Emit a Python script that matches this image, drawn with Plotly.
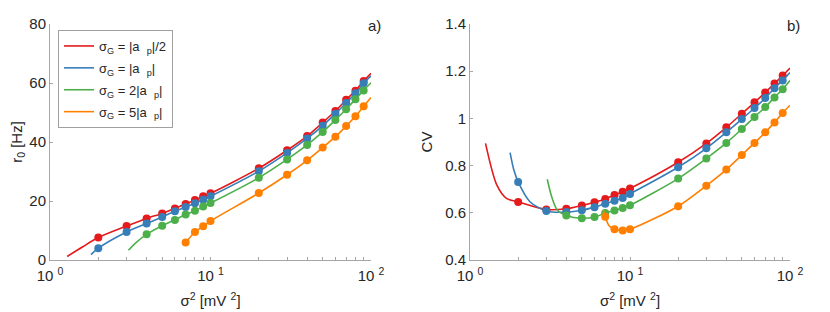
import plotly.graph_objects as go

# ---------------- data ----------------
SIG_POINTS = [2, 3, 4, 5, 6, 7, 8, 9, 10, 20, 30, 40, 50, 60, 70, 80, 90]

# simulated points: r0 [Hz]
r0_red    = [7.6, 11.5, 14.1, 15.8, 17.5, 19.0, 20.3, 21.6, 22.6, 31.1, 37.2, 42.0, 46.6, 50.5, 54.3, 57.4, 60.7]
r0_blue   = [4.0, 9.5, 12.4, 14.6, 16.5, 18.0, 19.2, 20.4, 21.6, 30.1, 36.3, 41.2, 45.5, 49.6, 53.2, 56.5, 59.9]
r0_green  = [8.7, 11.6, 13.6, 15.4, 16.7, 18.1, 19.3, 27.9, 34.1, 39.0, 43.4, 47.5, 51.1, 54.5, 57.5]
r0_orange = [5.9, 9.5, 11.4, 13.2, 22.7, 28.9, 33.8, 38.1, 41.8, 45.4, 48.7, 52.1]

# simulated points: CV
cv_red    = [0.646, 0.614, 0.617, 0.631, 0.645, 0.659, 0.675, 0.689, 0.703, 0.814, 0.894, 0.962, 1.020, 1.068, 1.110, 1.148, 1.182]
cv_blue   = [0.731, 0.608, 0.603, 0.611, 0.624, 0.638, 0.651, 0.663, 0.680, 0.793, 0.873, 0.941, 0.997, 1.044, 1.086, 1.128, 1.161]
cv_green  = [0.589, 0.577, 0.582, 0.599, 0.610, 0.620, 0.632, 0.745, 0.830, 0.896, 0.955, 1.006, 1.048, 1.089, 1.124]
cv_orange = [0.583, 0.530, 0.525, 0.530, 0.628, 0.715, 0.783, 0.845, 0.896, 0.941, 0.983, 1.023]

# theory curves
r0c_red_x    = [1.28, 1.6, 2, 3, 4, 5, 6, 7, 8, 9, 10, 20, 30, 40, 50, 60, 70, 80, 90, 100]
r0c_red_y    = [1.2, 4.5, 7.6, 11.5, 14.1, 15.8, 17.5, 19.0, 20.3, 21.6, 22.6, 31.1, 37.2, 42.0, 46.6, 50.5, 54.3, 57.4, 60.7, 63.3]
r0c_blue_x   = [1.80, 2, 3, 4, 5, 6, 7, 8, 9, 10, 20, 30, 40, 50, 60, 70, 80, 90, 100]
r0c_blue_y   = [1.8, 4.0, 9.5, 12.4, 14.6, 16.5, 18.0, 19.2, 20.4, 21.6, 30.1, 36.3, 41.2, 45.5, 49.6, 53.2, 56.5, 59.9, 62.4]
r0c_green_x  = [3.08, 3.45, 4, 5, 6, 7, 8, 9, 10, 20, 30, 40, 50, 60, 70, 80, 90, 100]
r0c_green_y  = [3.3, 6.0, 8.7, 11.6, 13.6, 15.4, 16.7, 18.1, 19.3, 27.9, 34.1, 39.0, 43.4, 47.5, 51.1, 54.5, 57.5, 60.1]
r0c_orange_x = [7, 8, 9, 10, 20, 30, 40, 50, 60, 70, 80, 90, 100]
r0c_orange_y = [5.9, 9.5, 11.4, 13.2, 22.7, 28.9, 33.8, 38.1, 41.8, 45.4, 48.7, 52.1, 55.1]

cvc_red_x    = [1.25, 1.47, 1.69, 2, 3, 4, 5, 6, 7, 8, 9, 10, 20, 30, 40, 50, 60, 70, 80, 90, 100]
cvc_red_y    = [0.894, 0.718, 0.661, 0.646, 0.614, 0.617, 0.631, 0.645, 0.659, 0.675, 0.689, 0.703, 0.814, 0.894, 0.962, 1.020, 1.068, 1.110, 1.148, 1.182, 1.213]
cvc_blue_x   = [1.78, 1.88, 2, 2.37, 3, 4, 5, 6, 7, 8, 9, 10, 20, 30, 40, 50, 60, 70, 80, 90, 100]
cvc_blue_y   = [0.855, 0.781, 0.731, 0.647, 0.608, 0.603, 0.611, 0.624, 0.638, 0.651, 0.663, 0.680, 0.793, 0.873, 0.941, 0.997, 1.044, 1.086, 1.128, 1.161, 1.194]
cvc_green_x  = [3.04, 3.24, 3.51, 4, 5, 6, 7, 8, 9, 10, 20, 30, 40, 50, 60, 70, 80, 90, 100]
cvc_green_y  = [0.742, 0.668, 0.612, 0.589, 0.577, 0.582, 0.599, 0.610, 0.620, 0.632, 0.745, 0.830, 0.896, 0.955, 1.006, 1.048, 1.089, 1.124, 1.161]
cvc_orange_x = [6.81, 7, 7.4, 8, 9, 10, 20, 30, 40, 50, 60, 70, 80, 90, 100]
cvc_orange_y = [0.612, 0.583, 0.545, 0.530, 0.525, 0.530, 0.628, 0.715, 0.783, 0.845, 0.896, 0.941, 0.983, 1.023, 1.056]

LABELS = ["σ<sub>G</sub> = |a  <sub>p</sub>|/2",
          "σ<sub>G</sub> = |a  <sub>p</sub>|",
          "σ<sub>G</sub> = 2|a  <sub>p</sub>|",
          "σ<sub>G</sub> = 5|a  <sub>p</sub>|"]
COLORS = ["#e41a1c", "#377eb8", "#4daf4a", "#ff7f00"]

X_TICKVALS = [1, 2, 3, 4, 5, 6, 7, 8, 9, 10, 20, 30, 40, 50, 60, 70, 80, 90, 100]
X_TICKTEXT = ["10 <sup>0</sup>", "", "", "", "", "", "", "", "", "10 <sup>1</sup>",
              "", "", "", "", "", "", "", "", "10 <sup>2</sup>"]
Y1_TICKS = [0, 20, 40, 60, 80]
Y2_TICKS = [0.4, 0.6, 0.8, 1.0, 1.2, 1.4]
Y2_TEXT = ["0.4", "0.6", "0.8", "1", "1.2", "1.4"]

# ---------------- figure ----------------
fig = go.Figure()

pts_x = [SIG_POINTS, SIG_POINTS, SIG_POINTS[2:], SIG_POINTS[5:]]
r0_pts = [r0_red, r0_blue, r0_green, r0_orange]
cv_pts = [cv_red, cv_blue, cv_green, cv_orange]
r0_cx = [r0c_red_x, r0c_blue_x, r0c_green_x, r0c_orange_x]
r0_cy = [r0c_red_y, r0c_blue_y, r0c_green_y, r0c_orange_y]
cv_cx = [cvc_red_x, cvc_blue_x, cvc_green_x, cvc_orange_x]
cv_cy = [cvc_red_y, cvc_blue_y, cvc_green_y, cvc_orange_y]

for i in range(4):
    fig.add_trace(go.Scatter(x=r0_cx[i], y=r0_cy[i], mode="lines", name=LABELS[i],
                             legendgroup="g%d" % i,
                             line=dict(color=COLORS[i], width=1.6, shape="spline", smoothing=0.8),
                             xaxis="x", yaxis="y", showlegend=True))
    fig.add_trace(go.Scatter(x=pts_x[i], y=r0_pts[i], mode="markers",
                             marker=dict(color=COLORS[i], size=8), xaxis="x", yaxis="y",
                             showlegend=False))
for i in range(4):
    fig.add_trace(go.Scatter(x=cv_cx[i], y=cv_cy[i], mode="lines",
                             line=dict(color=COLORS[i], width=1.6, shape="spline", smoothing=0.8),
                             xaxis="x2", yaxis="y2", showlegend=False))
    fig.add_trace(go.Scatter(x=pts_x[i], y=cv_pts[i], mode="markers",
                             marker=dict(color=COLORS[i], size=8), xaxis="x2", yaxis="y2",
                             showlegend=False))

W, H = 830, 312
OFF = 8  # page body margin: figure origin sits at (8, 8) of the page


def px(x):
    return (x - OFF) / W


def py(y):
    return 1 - (y - OFF) / H


axis_color = "#a6a6a6"
FONT = "Liberation Sans, Arial, sans-serif"
tick_font = dict(family=FONT, size=15, color="#262626")
title_font = dict(family=FONT, size=15, color="#262626")

xcommon = dict(type="log", range=[0, 2], tickvals=X_TICKVALS, ticktext=X_TICKTEXT,
               ticks="inside", ticklen=3, tickcolor=axis_color, showline=True,
               linecolor=axis_color, linewidth=1, showgrid=False, zeroline=False,
               tickfont=tick_font, title_font=title_font, ticklabelstandoff=2,
               automargin=False,
               title=dict(text="σ<sup>2</sup> [mV <sup>2</sup>]", standoff=12))
ycommon = dict(ticks="inside", ticklen=3, tickcolor=axis_color, showline=True,
               linecolor=axis_color, linewidth=1, showgrid=False, zeroline=False,
               tickfont=tick_font, title_font=title_font, automargin=False)

fig.update_layout(
    width=W, height=H,
    margin=dict(l=0, r=0, t=0, b=0),
    paper_bgcolor="white", plot_bgcolor="white",
    xaxis=dict(domain=[px(50), px(371)], anchor="y", **xcommon),
    yaxis=dict(domain=[py(260), py(24)], range=[0, 80], tickvals=Y1_TICKS,
               anchor="x", title=dict(text="r<sub>0</sub> [Hz]", standoff=6), **ycommon),
    xaxis2=dict(domain=[px(470), px(790)], anchor="y2", **xcommon),
    yaxis2=dict(domain=[py(260), py(24)], range=[0.4, 1.4], tickvals=Y2_TICKS,
                ticktext=Y2_TEXT, anchor="x2", title=dict(text="CV", standoff=8), **ycommon),
    legend=dict(x=px(58), y=py(30), xanchor="left", yanchor="top",
                bordercolor="#a0a0a0", borderwidth=1, bgcolor="white",
                font=dict(family=FONT, size=13, color="#262626"),
                itemwidth=30, tracegroupgap=2),
    annotations=[
        dict(text="a)", x=px(383), y=py(25), xref="paper", yref="paper",
             xanchor="right", yanchor="middle", showarrow=False,
             font=dict(family=FONT, size=15, color="#262626")),
        dict(text="b)", x=px(802), y=py(25), xref="paper", yref="paper",
             xanchor="right", yanchor="middle", showarrow=False,
             font=dict(family=FONT, size=15, color="#262626")),
    ],
)

fig.write_html("out.html")
